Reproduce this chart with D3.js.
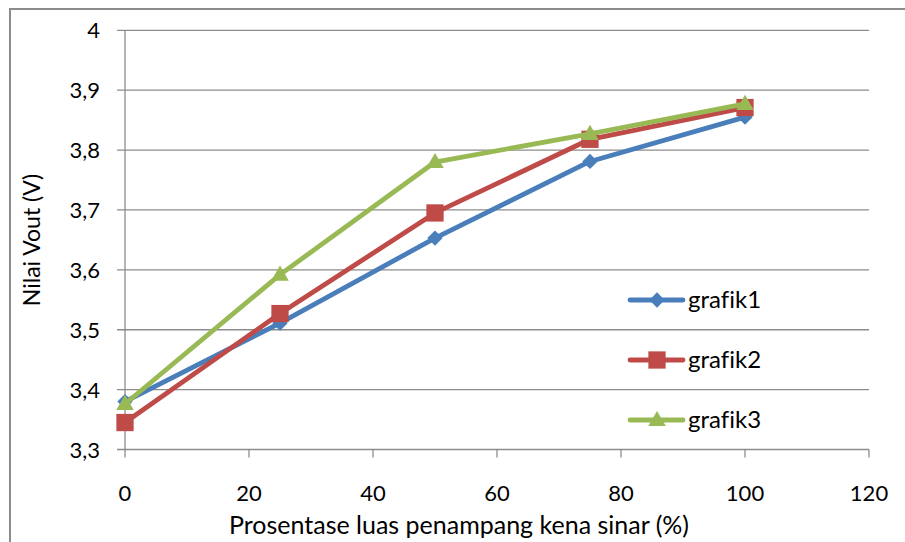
<!DOCTYPE html>
<html>
<head>
<meta charset="utf-8">
<script src="https://cdn.jsdelivr.net/npm/d3@7"></script>
<style>
  html, body { margin: 0; padding: 0; background: #fff; }
  svg { display: block; font-family: Lato, "Open Sans", sans-serif; font-variant-ligatures: none; }
</style>
</head>
<body>
<svg id="chart" width="905" height="542"></svg>
<script>
const xValues = [0, 25, 50, 75, 100];
const grafik1 = [3.38, 3.511, 3.653, 3.781, 3.855];
const grafik2 = [3.345, 3.527, 3.695, 3.818, 3.871];
const grafik3 = [3.376, 3.592, 3.780, 3.827, 3.877];
const seriesNames = ["grafik1", "grafik2", "grafik3"];
const seriesColors = ["#4A7EBB", "#BE4B48", "#98B954"];
const seriesShapes = ["diamond", "square", "triangle"];
const xTicks = [0, 20, 40, 60, 80, 100, 120];
const yTicks = [3.3, 3.4, 3.5, 3.6, 3.7, 3.8, 3.9, 4.0];
const xTitle = "Prosentase luas penampang kena sinar (%)";
const yTitle = "Nilai Vout (V)";

(function () {
const svg = d3.select("#chart");
const W = 905, H = 542;

// outer chart border
svg.append("rect").attr("x", 10).attr("y", 9).attr("width", W + 20).attr("height", H + 20)
  .attr("fill", "#fff").attr("stroke", "#8c8c8c").attr("stroke-width", 2);

const pL = 125, pR = 869, pT = 30.3, pB = 449.5;
const x = d3.scaleLinear().domain([0, 120]).range([pL, pR]);
const y = d3.scaleLinear().domain([3.3, 4.0]).range([pB, pT]);

const fmt = v => (Math.round(v * 10) / 10 === 4 ? "4" : d3.format(".1f")(v).replace(".", ","));

// gridlines
svg.append("g").selectAll("line").data(yTicks).join("line")
  .attr("x1", pL - 8).attr("x2", pR)
  .attr("y1", d => y(d)).attr("y2", d => y(d))
  .attr("stroke", "#8c8c8c").attr("stroke-width", 1.3);

// y axis line
svg.append("line").attr("x1", pL).attr("x2", pL).attr("y1", pT).attr("y2", pB)
  .attr("stroke", "#8c8c8c").attr("stroke-width", 1.3);

// x ticks
svg.append("g").selectAll("line").data(xTicks).join("line")
  .attr("x1", d => x(d)).attr("x2", d => x(d))
  .attr("y1", pB).attr("y2", pB + 8)
  .attr("stroke", "#8c8c8c").attr("stroke-width", 1.3);

// y tick labels
svg.append("g").selectAll("text").data(yTicks).join("text")
  .attr("x", 100).attr("y", d => y(d) + 8)
  .attr("text-anchor", "end").attr("font-size", 22).attr("fill", "#000")
  .text(d => fmt(d));

// x tick labels
svg.append("g").selectAll("text").data(xTicks).join("text")
  .attr("x", d => x(d)).attr("y", pB + 51)
  .attr("text-anchor", "middle").attr("font-size", 22).attr("fill", "#000")
  .text(d => d);

// axis titles
svg.append("text").attr("x", 459).attr("y", 534).attr("text-anchor", "middle")
  .attr("font-size", 25).attr("fill", "#000").text(xTitle);
svg.append("text").attr("transform", "translate(40,240) rotate(-90)")
  .attr("text-anchor", "middle").attr("font-size", 23).attr("fill", "#000").text(yTitle);

const symbolFor = shape => {
  if (shape === "diamond") return d3.symbol().type(d3.symbolDiamond2).size(150)();
  if (shape === "square") return d3.symbol().type(d3.symbolSquare2).size(380)();
  return d3.symbol().type(d3.symbolTriangle2).size(220)();
};

const allSeries = [grafik1, grafik2, grafik3];
const line = d3.line().x((d, i) => x(xValues[i])).y(d => y(d));

allSeries.forEach((vals, si) => {
  const g = svg.append("g");
  g.append("path").attr("d", line(vals)).attr("fill", "none")
    .attr("stroke", seriesColors[si]).attr("stroke-width", 4.8)
    .attr("stroke-linejoin", "round").attr("stroke-linecap", "round");
  g.selectAll("path.m").data(vals).join("path").attr("class", "m")
    .attr("d", symbolFor(seriesShapes[si]))
    .attr("transform", (d, i) => `translate(${x(xValues[i])},${y(d) + (seriesShapes[si] === "triangle" ? 1 : 0)})`)
    .attr("fill", seriesColors[si]);
});

// legend
const legendY = [300, 360, 420];
seriesNames.forEach((name, si) => {
  const g = svg.append("g");
  g.append("line").attr("x1", 630).attr("x2", 683).attr("y1", legendY[si]).attr("y2", legendY[si])
    .attr("stroke", seriesColors[si]).attr("stroke-width", 4.8).attr("stroke-linecap", "round");
  g.append("path").attr("d", symbolFor(seriesShapes[si]))
    .attr("transform", `translate(657,${legendY[si] + (seriesShapes[si] === "triangle" ? 1 : 0)})`)
    .attr("fill", seriesColors[si]);
  g.append("text").attr("x", 688).attr("y", legendY[si] + 8).attr("font-size", 24)
    .attr("fill", "#000").text(name);
});
})();
</script>
</body>
</html>
